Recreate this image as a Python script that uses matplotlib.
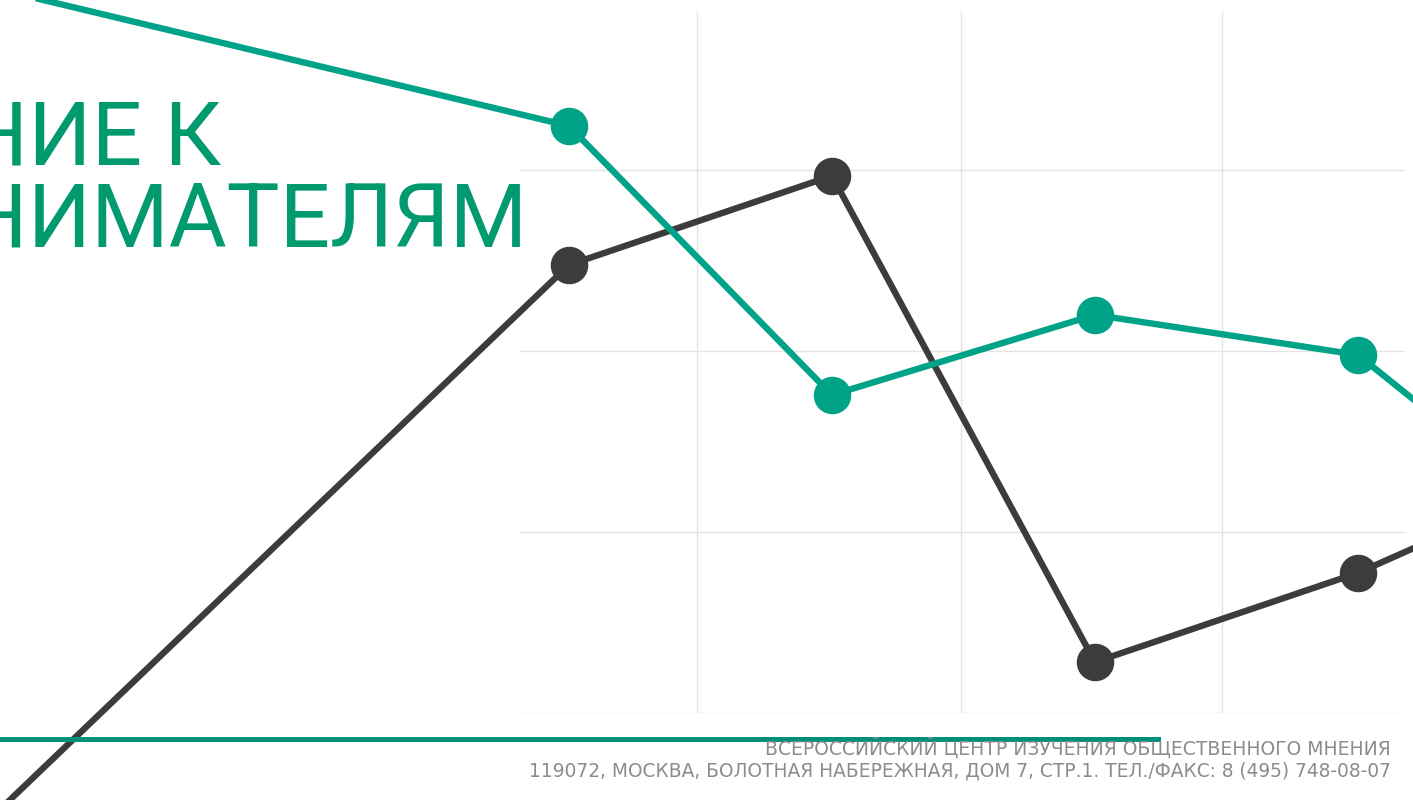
import matplotlib
matplotlib.use("Agg")
import matplotlib.pyplot as plt

# data (x = position on the time axis, first and last points lie outside the view)
x_vals = [-2, 1, 2, 3, 4, 5]
green_vals = [42.9, 32.45, 17.57, 22.0, 19.79, 8.1]
dark_vals = [-17.0, 24.76, 29.69, 2.8, 7.73, 14.2]
y_ticks = [0, 10, 20, 30]
x_grid = [1.487, 2.49, 3.483]

title_lines = ["ОТНОШЕНИЕ К", "ПРЕДПРИНИМАТЕЛЯМ"]
footer_lines = ["ВСЕРОССИЙСКИЙ ЦЕНТР ИЗУЧЕНИЯ ОБЩЕСТВЕННОГО МНЕНИЯ",
                "119072, МОСКВА, БОЛОТНАЯ НАБЕРЕЖНАЯ, ДОМ 7, СТР.1. ТЕЛ./ФАКС: 8 (495) 748-08-07"]

W, H = 1413, 800
fig = plt.figure(figsize=(W / 100, H / 100), dpi=100)

def fx(px):
    return px / W

def fy(py):
    return 1 - py / H

# plot area roughly where the grid is drawn
ax = fig.add_axes([fx(520), fy(712.7), fx(1405) - fx(520), (712.7 - 12) / H])
ax.set_xlim(0.814, 4.179)
ax.set_ylim(0, 38.75)
for s in ax.spines.values():
    s.set_visible(False)
ax.set_xticks(x_grid)
ax.set_yticks(y_ticks)
ax.tick_params(length=0, labelbottom=False, labelleft=False)
ax.grid(True, color="#e4e4e4", linewidth=1)
ax.set_axisbelow(True)

# bottom rule
fig.add_artist(plt.Line2D([0, fx(1158)], [fy(738.5), fy(738.5)], color="#008f7a",
                          linewidth=3.6, zorder=1))

ax.plot(x_vals, dark_vals, color="#3c3c3c", linewidth=4.6, marker="o", markersize=26,
        clip_on=False, zorder=3)
ax.plot(x_vals, green_vals, color="#00a388", linewidth=4.6, marker="o", markersize=26,
        clip_on=False, zorder=4)

# title, cut by the left edge as in the slide
fig.text(fx(221), fy(165), title_lines[0], ha="right", va="baseline", fontsize=64,
         color="#009a6e", family="Roboto", zorder=5)
fig.text(fx(527), fy(246), title_lines[1], ha="right", va="baseline", fontsize=64,
         color="#009a6e", family="Roboto", zorder=5)

# footer
fig.text(fx(1391), fy(755), footer_lines[0], ha="right", va="baseline", fontsize=13.5,
         color="#8c8c8c", family="DejaVu Sans")
fig.text(fx(1391), fy(777), footer_lines[1], ha="right", va="baseline", fontsize=13.4,
         color="#8c8c8c", family="DejaVu Sans")

fig.savefig("out.png", dpi=100)
